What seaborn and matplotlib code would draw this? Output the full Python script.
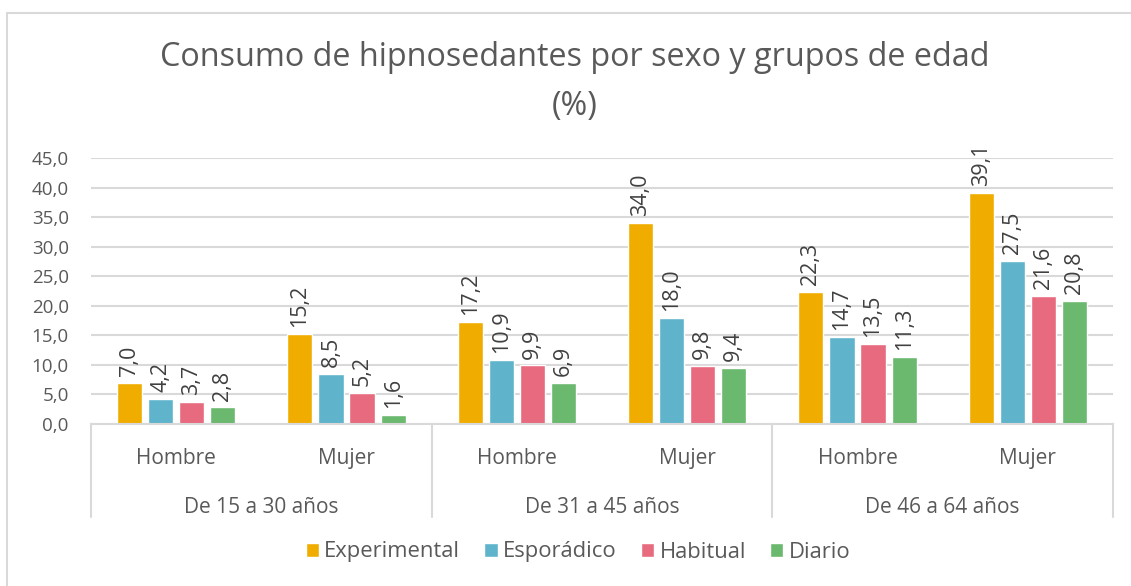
import matplotlib
matplotlib.use("Agg")
import matplotlib.pyplot as plt
import matplotlib.transforms as mtransforms
from matplotlib.patches import Rectangle
import seaborn as sns
import pandas as pd
import numpy as np

# ---- data ----
groups = ["De 15 a 30 años", "De 31 a 45 años", "De 46 a 64 años"]
sexes = ["Hombre", "Mujer"]
series = ["Experimental", "Esporádico", "Habitual", "Diario"]
experimental = [7.0, 15.2, 17.2, 34.0, 22.3, 39.1]
esporadico = [4.2, 8.5, 10.9, 18.0, 14.7, 27.5]
habitual = [3.7, 5.2, 9.9, 9.8, 13.5, 21.6]
diario = [2.8, 1.6, 6.9, 9.4, 11.3, 20.8]
colors = ["#F0AD00", "#5FB4CC", "#E76A7E", "#6BB86F"]
title = "Consumo de hipnosedantes por sexo y grupos de edad\n(%)"

cats = [f"{g}|{s}" for g in groups for s in sexes]
vals = {"Experimental": experimental, "Esporádico": esporadico,
        "Habitual": habitual, "Diario": diario}
rows = []
for s in series:
    for c, v in zip(cats, vals[s]):
        rows.append({"cat": c, "serie": s, "valor": v})
df = pd.DataFrame(rows)

sns.set_theme(style="white")
plt.rcParams["font.family"] = ["Open Sans", "DejaVu Sans"]
TXT = "#595959"

fig = plt.figure(figsize=(11.31, 5.86), dpi=100)
ax = fig.add_axes([91/1131, 1-424/586, (1113-91)/1131, (424-158)/586])

sns.barplot(data=df, x="cat", y="valor", hue="serie", order=cats,
            hue_order=series, palette=colors, width=0.73, gap=0.19,
            saturation=1, ax=ax, legend=True, errorbar=None)

ax.set_ylim(0, 45)
ax.set_xlim(-0.5, 5.5)
ax.set_yticks(np.arange(0, 46, 5))
ax.set_yticklabels([f"{t:.1f}".replace(".", ",") for t in np.arange(0, 46, 5)],
                   fontsize=13.5, color=TXT)
ax.tick_params(axis="y", length=0, pad=16)
ax.yaxis.grid(True, color="#D9D9D9", linewidth=1.5)
ax.set_axisbelow(True)
for sp in ["top", "right", "left"]:
    ax.spines[sp].set_visible(False)
ax.spines["bottom"].set_color("#D9D9D9")
ax.spines["bottom"].set_linewidth(1.5)
ax.set_xlabel("")
ax.set_ylabel("")

# category labels
ax.set_xticks(range(len(cats)))
ax.set_xticklabels([c.split("|")[1] for c in cats], fontsize=15, color=TXT)
ax.tick_params(axis="x", length=0, pad=17)

trans = mtransforms.blended_transform_factory(ax.transData, ax.transAxes)
for i, g in enumerate(groups):
    ax.text(2*i + 0.5, -0.314, g, transform=trans, ha="center", va="center",
            fontsize=15, color=TXT)
for xs in [-0.5, 1.5, 3.5, 5.5]:
    ax.plot([xs, xs], [0, -0.35], transform=trans, color="#D9D9D9",
            linewidth=1.5, clip_on=False)

# data labels
for cont in ax.containers:
    labels = [f"{b.get_height():.1f}".replace(".", ",") for b in cont]
    ax.bar_label(cont, labels=labels, rotation=90, padding=5,
                 fontsize=15.5, color="#404040")

# legend
h, l = ax.get_legend_handles_labels()
ax.legend_.remove()
fig.legend(h, l, loc="center", bbox_to_anchor=(578/1131, 1-552/586), ncol=4,
           frameon=False, fontsize=15.8, handlelength=0.6, handleheight=0.6,
           handletextpad=0.25, columnspacing=1.1, labelcolor=TXT)

fig.text(575/1131, 1-82/586, title, ha="center", va="center", fontsize=23.3,
         color=TXT, linespacing=1.6)

# chart border
fig.patches.append(Rectangle((7/1131, -0.1), 1.2, 1.1 - 13/586,
                             transform=fig.transFigure, fill=False,
                             edgecolor="#D9D9D9", linewidth=1.5))

fig.savefig("out.png", dpi=100, facecolor="white")
